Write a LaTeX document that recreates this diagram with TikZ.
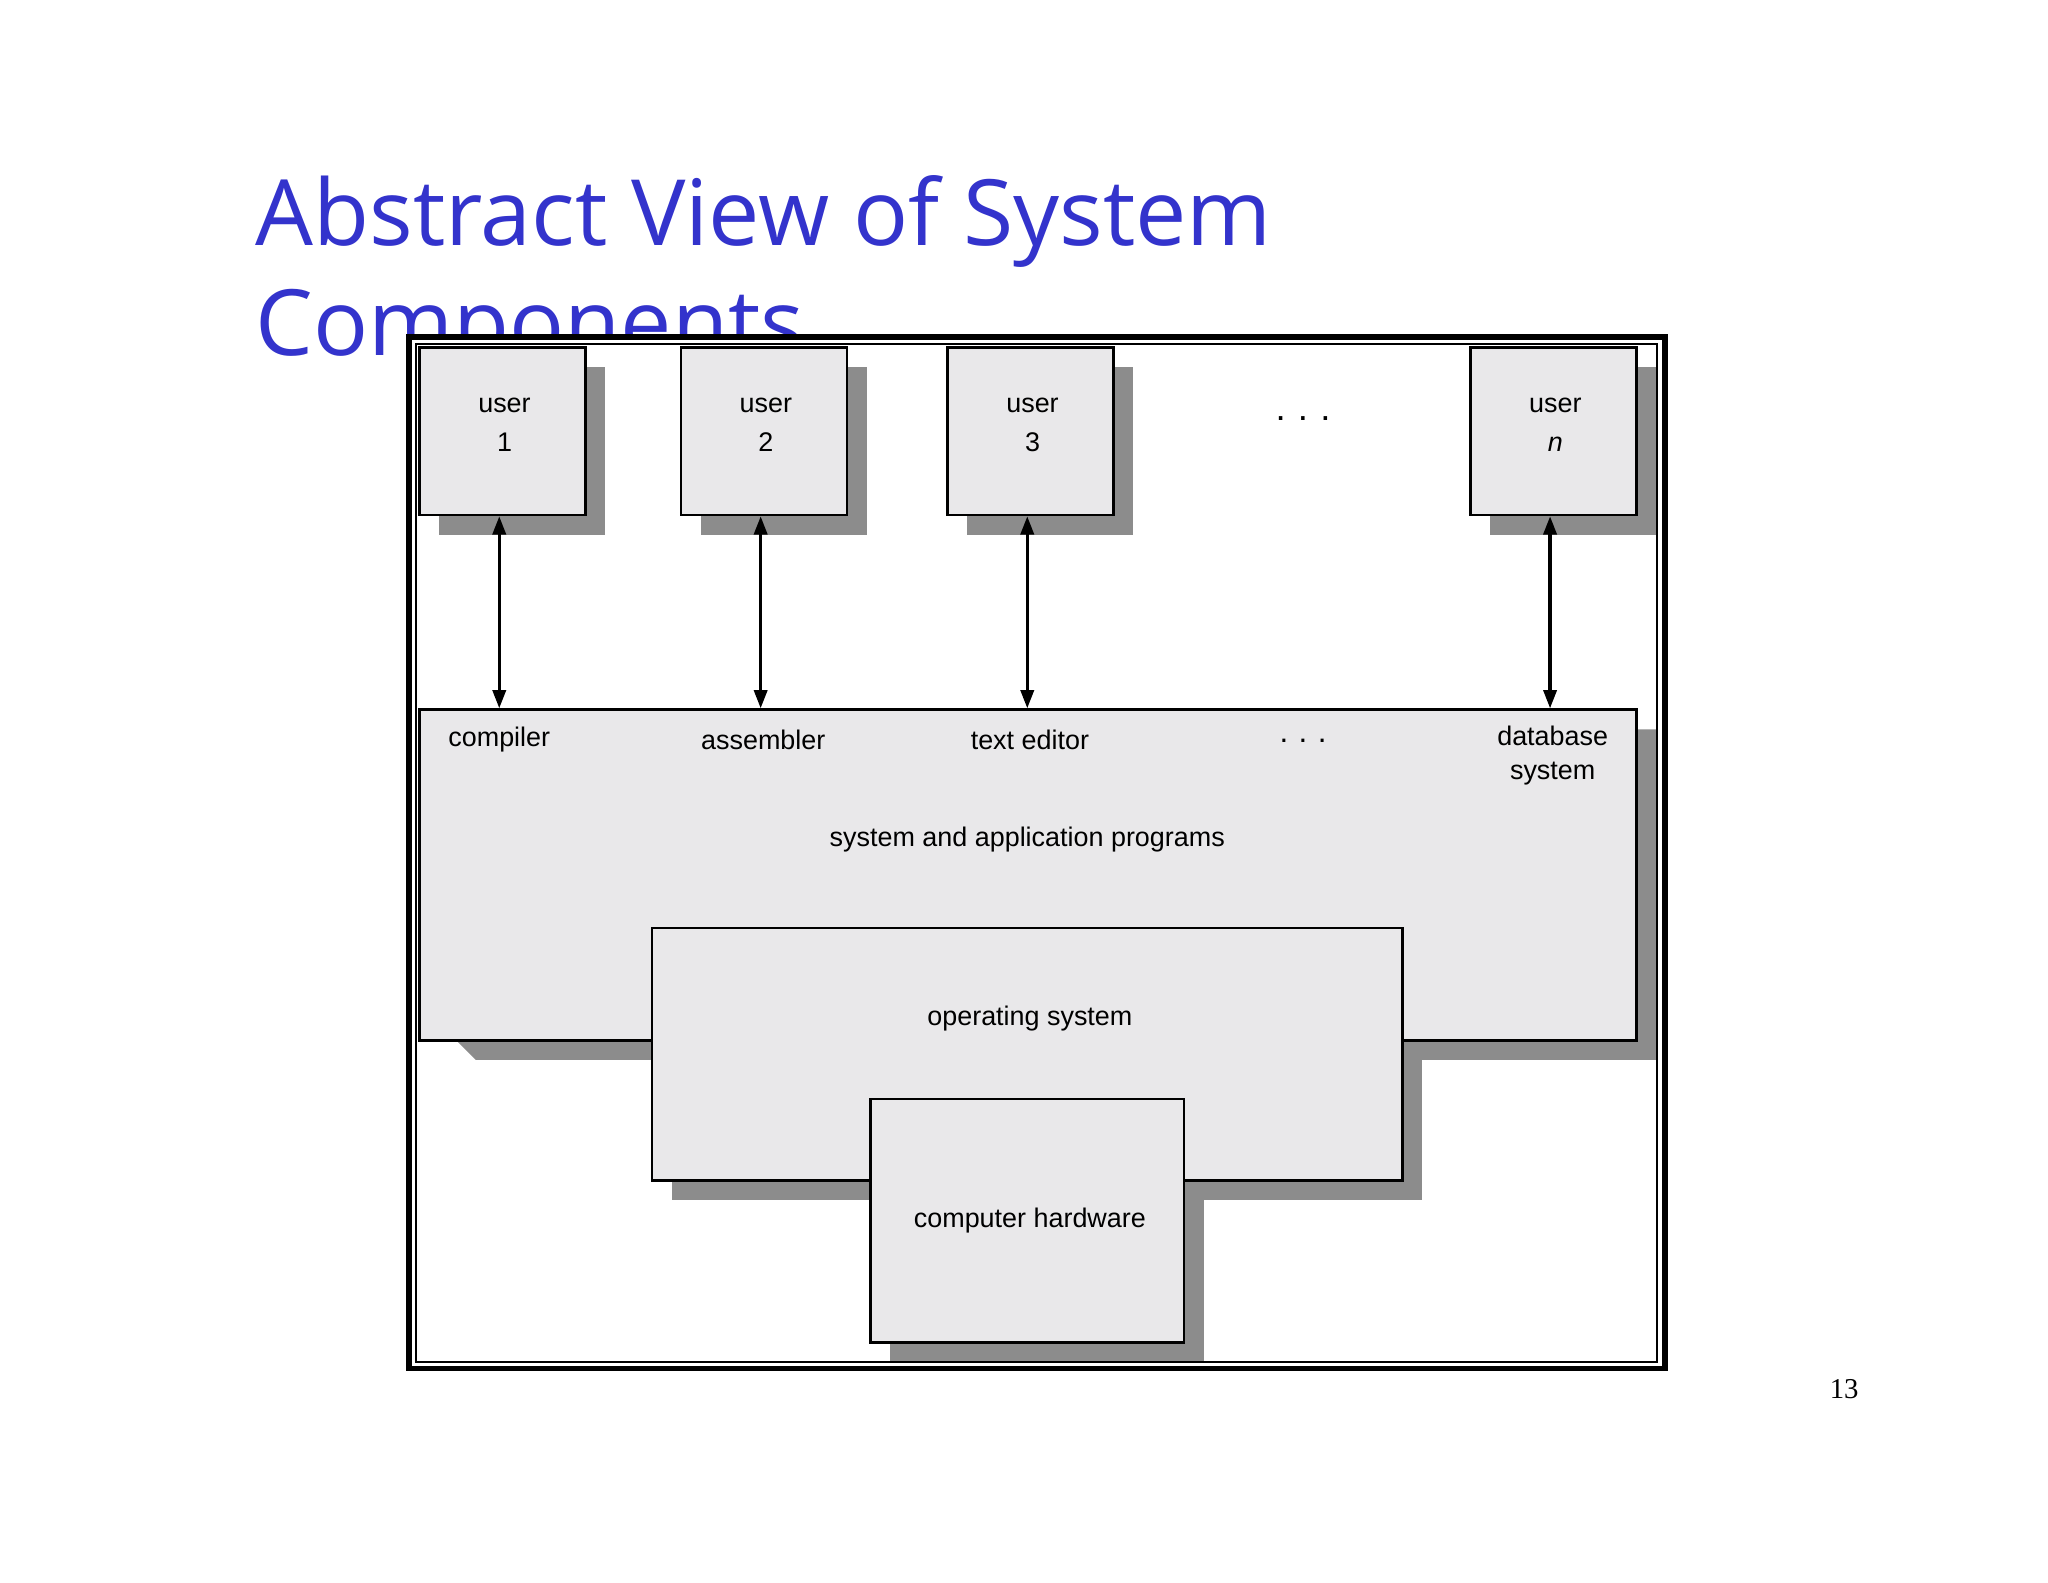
\documentclass[tikz,border=0pt]{standalone}
\usepackage{fontspec}
\setmainfont{Liberation Sans}
\newfontfamily\titlefont{Open Sans}
\newfontfamily\numfont{Liberation Serif}
\usetikzlibrary{arrows.meta}
\definecolor{titleblue}{RGB}{51,51,204}
\definecolor{boxfill}{RGB}{233,232,234}
\definecolor{shadowgray}{RGB}{140,140,140}
\tikzset{
  x=0.5pt,y=-0.5pt,
  box/.style={draw=black,line width=1pt,fill=boxfill},
  lbl/.style={font=\fontsize{10.3}{13}\selectfont,align=center,inner sep=0pt},
  link/.style={line width=1.3pt,{Triangle[length=7pt,width=5pt]}-{Triangle[length=7pt,width=5pt]}}
}
\begin{document}
\begin{tikzpicture}
\useasboundingbox (0,0) rectangle (1567,1211);
\fill[white] (0,0) rectangle (1567,1211);
% title
\node[anchor=base west,inner sep=0pt,text=titleblue,font=\titlefont\fontsize{35}{42}\selectfont] (t1) at (195,188) {Abstract View of System};
\node[anchor=base west,inner sep=0pt,text=titleblue,font=\titlefont\fontsize{35}{42}\selectfont] (t2) at (195,272) {Components};
% frame
\fill[white] (313,258) rectangle (1274,1047);
\draw[line width=2.2pt] (313,258) rectangle (1274,1047);
\draw[line width=0.8pt] (318,263) rectangle (1268,1042);
% shadows
\fill[shadowgray] (336,281) rectangle (463,409);
\fill[shadowgray] (536,281) rectangle (663,409);
\fill[shadowgray] (740,281) rectangle (867,409);
\fill[shadowgray] (1140,281) rectangle (1267,409);
\fill[shadowgray] (348,795) -- (364,811) -- (1267,811) -- (1267,558) -- (1251,558) -- (1251,795) -- cycle;
\fill[shadowgray] (514,725) rectangle (1088,918);
\fill[shadowgray] (681,856) rectangle (921,1041);
% users
\node[box,minimum width=63.5pt,minimum height=64pt,anchor=north west] (u1) at (320,265) {};
\node[box,minimum width=63.5pt,minimum height=64pt,anchor=north west] (u2) at (520,265) {};
\node[box,minimum width=63.5pt,minimum height=64pt,anchor=north west] (u3) at (724,265) {};
\node[box,minimum width=63.5pt,minimum height=64pt,anchor=north west] (un) at (1124,265) {};
\node[lbl] (l1) at (386,325) {user\\[2pt]1};
\node[lbl] (l2) at (586,325) {user\\[2pt]2};
\node[lbl] (l3) at (790,325) {user\\[2pt]3};
\node[lbl] (ln) at (1190,325) {user\\[2pt]\textit{n}};
\node[lbl,font=\fontsize{14}{14}\selectfont] (dots1) at (997,320) {.\,\,.\,\,.};
% apps
\node[box,minimum width=465.5pt,minimum height=126.5pt,anchor=north west] (apps) at (320,542) {};
\coordinate (a1) at (382,542);
\coordinate (a2) at (582,542);
\coordinate (a3) at (786,542);
\coordinate (an) at (1186,542);
\draw[link] (u1.south -| a1) -- (a1);
\draw[link] (u2.south -| a2) -- (a2);
\draw[link] (u3.south -| a3) -- (a3);
\draw[link] (un.south -| an) -- (an);
\node[lbl] (c) at (382,566) {compiler};
\node[lbl] (as) at (584,566) {assembler};
\node[lbl] (te) at (788,566) {text editor};
\node[lbl,font=\fontsize{12}{12}\selectfont] (dots2) at (997,567) {.\,\,.\,\,.};
\node[lbl,anchor=north] (db) at (1188,555) {database\\system};
\node[lbl] (sap) at (786,642) {system and application programs};
% OS
\node[box,minimum width=287pt,minimum height=96.5pt,anchor=north west] (os) at (498,709) {};
\node[lbl] (osl) at (788,779) {operating system};
% hardware
\node[box,minimum width=120pt,minimum height=93pt,anchor=north west] (hw) at (665,840) {};
\node[lbl] (hwl) at (788,934) {computer hardware};
% page number
\node[font=\numfont\fontsize{11}{13}\selectfont,inner sep=0pt] (pn) at (1411,1063) {13};
\end{tikzpicture}
\end{document}
